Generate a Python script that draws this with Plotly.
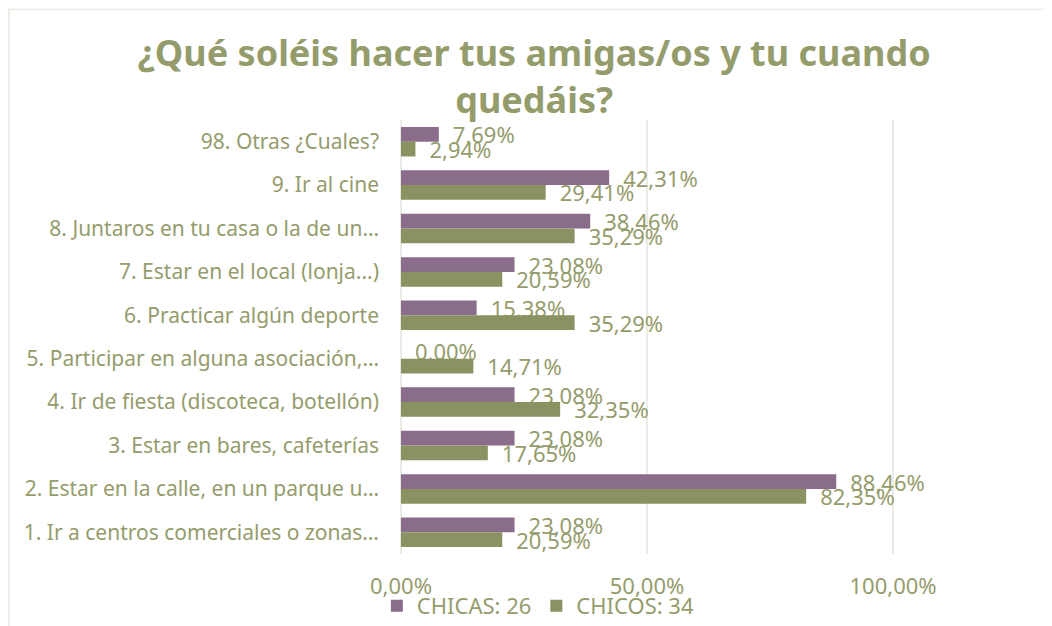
import plotly.graph_objects as go

categories = [
    "98. Otras ¿Cuales?",
    "9. Ir al cine",
    "8. Juntaros en tu casa o la de un…",
    "7. Estar en el local (lonja...)",
    "6. Practicar algún deporte",
    "5. Participar en alguna asociación,…",
    "4. Ir de fiesta (discoteca, botellón)",
    "3. Estar en bares, cafeterías",
    "2. Estar en la calle, en un parque u…",
    "1. Ir a centros comerciales o zonas…",
]
chicas = [7.69, 42.31, 38.46, 23.08, 15.38, 0.00, 23.08, 23.08, 88.46, 23.08]
chicos = [2.94, 29.41, 35.29, 20.59, 35.29, 14.71, 32.35, 17.65, 82.35, 20.59]
series_names = ["CHICAS: 26", "CHICOS: 34"]
x_ticks = [0, 0.5, 1]
title_text = "¿Qué soléis hacer tus amigas/os y tu cuando<br>quedáis?"

TXT = "#959c6c"
FONT = "Noto Sans"

# figure is shown with the page's 8px body margin, so it is sized 1044x618
W, H = 1044, 618
L, T = 391, 112
PW, PH = 496, 434
R, B = W - L - PW, H - T - PH


def fmt(v):
    return "\u2002" + f"{v:.2f}".replace(".", ",") + "%"


fig = go.Figure()
for name, vals, col in [(series_names[0], chicas, "#896d8b"), (series_names[1], chicos, "#899260")]:
    fig.add_trace(go.Bar(
        y=categories, x=[v / 100 for v in vals], orientation="h", name=name,
        marker=dict(color=col, line=dict(width=0)),
        text=[fmt(v) for v in vals], textposition="outside", cliponaxis=False,
        constraintext="none", textangle=0,
        textfont=dict(family=FONT, size=22, color=TXT),
    ))

fig.update_layout(
    width=W, height=H,
    margin=dict(l=L, r=R, t=T, b=B, autoexpand=False),
    paper_bgcolor="white", plot_bgcolor="white",
    separators=",.",
    barmode="group", bargap=0.32, bargroupgap=0,
    title=dict(text=title_text, x=0.504, xanchor="center", xref="container",
               y=1 - 58 / H, yanchor="middle", yref="container",
               font=dict(family=FONT, size=36, color=TXT, weight="bold")),
    xaxis=dict(range=[-0.004, 1.004], tickvals=x_ticks, tickformat=".2%",
               showgrid=True, gridcolor="#ebebe5", gridwidth=2, zeroline=False,
               showline=False, ticks="", ticklabelstandoff=17,
               tickfont=dict(family=FONT, size=22, color=TXT)),
    yaxis=dict(autorange="reversed", showgrid=False, showline=False, ticks="",
               ticklabelstandoff=19, tickfont=dict(family=FONT, size=21, color=TXT)),
    legend=dict(orientation="h", xref="container", x=0.508, xanchor="center",
                yref="container", y=20 / H, yanchor="middle",
                bgcolor="rgba(0,0,0,0)",
                font=dict(family=FONT, size=22, color=TXT), itemwidth=30, tracegroupgap=0),
    showlegend=True,
    shapes=[dict(type="rect", xref="paper", yref="paper",
                 x0=(1 - L) / PW, x1=2, y0=-1, y1=(PH + T - 1.5) / PH,
                 line=dict(color="#efefea", width=2), layer="below")],
)

fig.write_html("out.html")
